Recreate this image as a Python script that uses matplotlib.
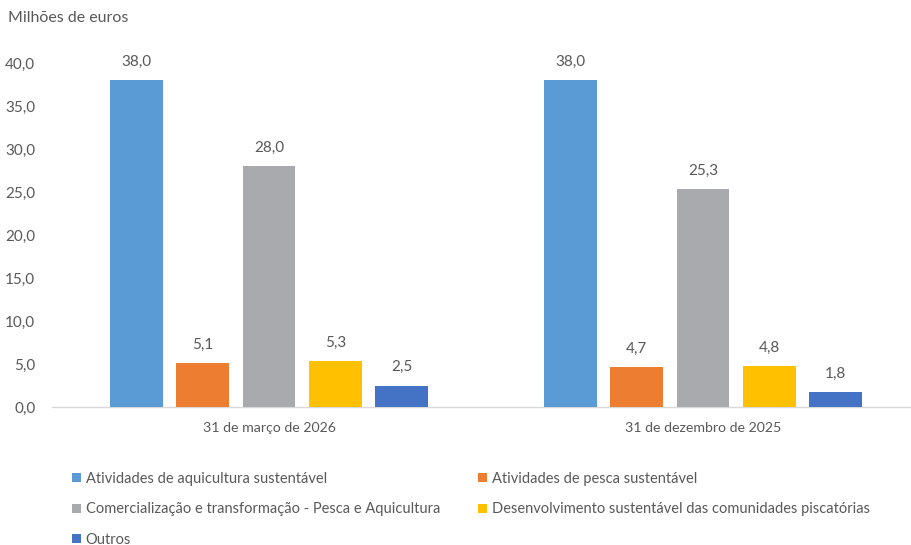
import matplotlib
matplotlib.use("Agg")
import matplotlib.pyplot as plt
import numpy as np

categories = ["31 de março de 2026", "31 de dezembro de 2025"]
series_names = [
    "Atividades de aquicultura sustentável",
    "Atividades de pesca sustentável",
    "Comercialização e transformação - Pesca e Aquicultura",
    "Desenvolvimento sustentável das comunidades piscatórias",
    "Outros",
]
values = [
    [38.0, 38.0],
    [5.1, 4.7],
    [28.0, 25.3],
    [5.3, 4.8],
    [2.5, 1.8],
]
colors = ["#5B9BD5", "#ED7D31", "#A9AAAD", "#FFC000", "#4472C4"]
yticks = [0, 5, 10, 15, 20, 25, 30, 35, 40]

plt.rcParams['font.family'] = ['Lato', 'DejaVu Sans']
txt = "#595959"

fig = plt.figure(figsize=(9.12, 5.45), dpi=100)
ax = fig.add_axes([52/912, 1-407/545, 860/912, (407-63)/545])

x = np.arange(len(categories))
width = 0.122
step = 0.153
handles = []
for i, (name, vals, c) in enumerate(zip(series_names, values, colors)):
    pos = x + (i - 2) * step
    b = ax.bar(pos, vals, width=width, color=c, label=name, zorder=3)
    handles.append(b)
    for p, v in zip(pos, vals):
        ax.annotate(f"{v:.1f}".replace(".", ","), (p, v), xytext=(0, 8),
                    textcoords="offset points", ha="center", va="bottom",
                    fontsize=11, color=txt, clip_on=False)

ax.set_xlim(-0.5, 1.4816)
ax.set_ylim(0, 40)
ax.set_yticks(yticks)
ax.set_yticklabels([f"{t:.1f}".replace(".", ",") for t in yticks], fontsize=11, color=txt)
ax.set_xticks(x)
ax.set_xticklabels(categories, fontsize=10.2, color=txt)
ax.tick_params(axis="both", length=0)
ax.tick_params(axis="y", pad=12)
ax.tick_params(axis="x", pad=11)
for s in ["top", "right", "left"]:
    ax.spines[s].set_visible(False)
ax.spines["bottom"].set_color("#D9D9D9")
ax.spines["bottom"].set_linewidth(1.0)

fig.text(8/912, 1-18/545, "Milhões de euros", fontsize=11.5, color=txt, va="center", ha="left")

order = [0, 2, 4, 1, 3]
leg = fig.legend([handles[i] for i in order], [series_names[i] for i in order],
                 ncol=2, loc="upper left", bbox_to_anchor=(72/912, 1-472/545),
                 frameon=False, fontsize=10.5, handlelength=0.6, handleheight=0.6,
                 handletextpad=0.35, labelspacing=1.12, columnspacing=2.6,
                 borderpad=0, borderaxespad=0)
for t in leg.get_texts():
    t.set_color(txt)

fig.savefig("out.png", dpi=100)
